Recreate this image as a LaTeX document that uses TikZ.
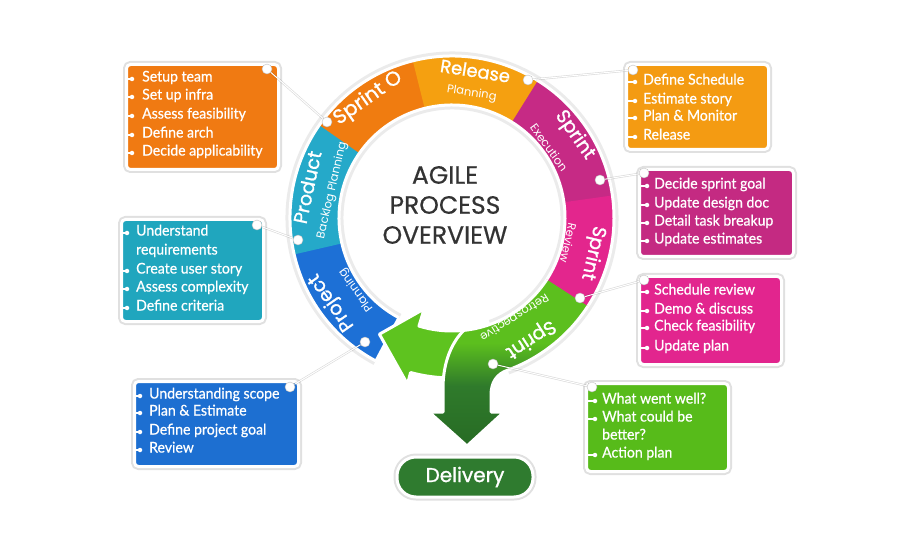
\documentclass[tikz,border=0pt]{standalone}
\usepackage{fontspec}
\setmainfont{Lato}
\newfontfamily\bfont[FakeStretch=0.95,FakeBold=0.6]{Lato}
\newfontfamily\gfont{Poppins}
\newfontfamily\gtitle[FakeBold=0.5]{Poppins}
\newfontfamily\gmed[FakeBold=1.2]{Poppins}
\usetikzlibrary{calc}
\definecolor{sorange}{HTML}{F07C10}
\definecolor{rorange}{HTML}{F5A010}
\definecolor{pteal}{HTML}{25A9C9}
\definecolor{pblue}{HTML}{1D70D6}
\definecolor{emag}{HTML}{C62A85}
\definecolor{rpink}{HTML}{E3268D}
\definecolor{lime}{HTML}{5CBF1E}
\definecolor{ltgreen}{HTML}{5EC31F}
\definecolor{dkgreen}{HTML}{2F7A2B}
\definecolor{dkgreen2}{HTML}{276B24}
\definecolor{pillgreen}{HTML}{2F7B2F}
\definecolor{txtgray}{HTML}{333333}
\definecolor{bx1}{HTML}{F07A12}
\definecolor{bx2}{HTML}{20A6BE}
\definecolor{bx3}{HTML}{1D6FD1}
\definecolor{bx4}{HTML}{F49B12}
\definecolor{bx5}{HTML}{C42A82}
\definecolor{bx6}{HTML}{E2258E}
\definecolor{bx7}{HTML}{57BB1A}
\pgfdeclareverticalshading{greenshade}{100bp}{color(0bp)=(dkgreen2); color(25bp)=(dkgreen2); color(43bp)=(dkgreen); color(56bp)=(lime); color(100bp)=(lime)}
\newcommand\ringseg[3]{%
  \fill[#1] ($(C)+(#2:113)$) arc[start angle=#2, end angle=#3, radius=113]
    -- ($(C)+(#3:162)$) arc[start angle=#3, end angle=#2, radius=162] -- cycle;}
\newcommand\bitem[5]{%
  \node[bul] (#1b#4) at (#2,#4) {};
  \draw[bulline] (#1.west |- #1b#4) -- (#1b#4);
  \node[item] (#1t#4) at (#3,#4) {#5};}
\begin{document}
\begin{tikzpicture}[x=1pt,y=-1pt,
  box/.style={draw=white, line width=3pt, rounded corners=4pt, anchor=north west, inner sep=0pt,
    preaction={draw=black, draw opacity=.12, line width=7pt}},
  item/.style={anchor=mid west, inner sep=0pt, text=white, font=\bfont\fontsize{14.8}{15}\selectfont},
  bul/.style={circle, fill=white, inner sep=0pt, minimum size=4.5pt},
  bulline/.style={white, line width=1.2pt},
  dotn/.style={circle, fill=white, inner sep=0pt, minimum size=10pt, draw=black!25, line width=0.4pt},
  conn/.style={white, line width=1pt, preaction={draw=black, draw opacity=.15, line width=2.2pt}},
  mainlab/.style={text=white, inner sep=0pt, font=\gmed\fontsize{19}{19}\selectfont},
  sublab/.style={text=white, inner sep=0pt, font=\gfont\fontsize{11.5}{11.5}\selectfont},
  ringline/.style={white, line width=3pt, line join=round}]
\useasboundingbox (0,0) rectangle (900,540);
\fill[white] (0,0) rectangle (900,540);
\coordinate (C) at (452,218);
% ring shadow
\draw[black, draw opacity=.08, line width=58pt] ($(C)+(118:137.5)$) arc[start angle=118, end angle=430, radius=137.5];
% ring segments
\ringseg{pblue}{118}{167.5}
\ringseg{pteal}{167}{215.5}
\ringseg{sorange}{215}{256.5}
\ringseg{rorange}{256}{302.5}
\ringseg{emag}{302}{352.5}
\ringseg{rpink}{352}{394}
\draw[ringline] ($(C)+(118:162)$) arc[start angle=118, end angle=393, radius=162];
\draw[ringline] ($(C)+(118:113)$) arc[start angle=118, end angle=393, radius=113];
\draw[ringline] ($(C)+(118:113)$) -- ($(C)+(118:162)$);
% light green arrow back to project
\filldraw[fill=ltgreen, draw=white, line width=3pt, line join=round]
  ($(C)+(107:95)$) -- ($(C)+(122:137)$) -- ($(C)+(105:172)$) -- ($(C)+(105:160)$)
  arc[start angle=105, end angle=80, radius=160] -- ($(C)+(80:113)$)
  arc[start angle=80, end angle=107, radius=113] -- cycle;
% retrospective + delivery stem
\shade[shading=greenshade] ($(C)+(33:162)$) arc[start angle=33, end angle=70, radius=162]
  .. controls (497,374) and (491,382) .. (491,395) -- (491,412) -- (504,412) -- (467,446)
  -- (429,412) -- (443,412) -- (443,388)
  .. controls (443,362) and (452,342) .. ($(C)+(84:113)$)
  arc[start angle=84, end angle=33, radius=113] -- cycle;
\draw[ringline] ($(C)+(33:162)$) arc[start angle=33, end angle=70, radius=162]
  .. controls (497,374) and (491,382) .. (491,395) -- (491,412) -- (504,412) -- (467,446)
  -- (429,412) -- (443,412) -- (443,388)
  .. controls (443,362) and (452,342) .. ($(C)+(84:113)$)
  arc[start angle=84, end angle=33, radius=113];
% ring labels
\node[mainlab, font=\gmed\fontsize{20}{20}\selectfont, rotate=35] (lsp0) at ($(C)+(-125:146)$) {Sprint O};
\node[mainlab, font=\gmed\fontsize{18}{18}\selectfont, rotate=-9] (lrel) at ($(C)+(-81:149)$) {Release};
\node[sublab, rotate=-9] (lrel2) at ($(C)+(-81:126)$) {Planning};
\node[mainlab, rotate=-55] (lexe) at ($(C)+(-34:148)$) {Sprint};
\node[sublab, rotate=-54] (lexe2) at ($(C)+(-36:120)$) {Execution};
\node[mainlab, rotate=-103] (lrev) at ($(C)+(14:145)$) {Sprint};
\node[sublab, rotate=-103] (lrev2) at ($(C)+(12:119)$) {Review};
\node[mainlab, rotate=-147] (lret) at ($(C)+(57:144)$) {Sprint};
\node[sublab, rotate=-148] (lret2) at ($(C)+(58:117)$) {Retrospective};
\node[mainlab, rotate=125] (lproj) at ($(C)+(-215:147)$) {Project};
\node[sublab, rotate=126] (lproj2) at ($(C)+(-217:120)$) {Planning};
\node[mainlab, rotate=78] (lprod) at ($(C)+(-168:148)$) {Product};
\node[sublab, rotate=77] (lprod2) at ($(C)+(-167:123)$) {Backlog Planning};
% title
\node[font=\gtitle\fontsize{25}{30}\selectfont, text=txtgray, align=center, inner sep=0pt] (title) at (445,205) {AGILE\\PROCESS\\OVERVIEW};
% delivery
\node[draw=white, line width=3pt, fill=pillgreen, rounded corners=19pt, minimum width=136pt, minimum height=40pt,
  inner sep=0pt, text=white, font=\gmed\fontsize{20}{20}\selectfont,
  preaction={draw=black, draw opacity=.12, line width=7pt}] (deliv) at (465,477) {Delivery};
% boxes
\node[box, fill=bx1, minimum width=152pt, minimum height=105pt] (box1) at (125,63) {};
\node[box, fill=bx2, minimum width=142pt, minimum height=102pt] (box2) at (120,218) {};
\node[box, fill=bx3, minimum width=164pt, minimum height=85pt] (box3) at (133,380) {};
\node[box, fill=bx4, minimum width=142pt, minimum height=85pt] (box4) at (625,63) {};
\node[box, fill=bx5, minimum width=154pt, minimum height=87pt] (box5) at (638,168) {};
\node[box, fill=bx6, minimum width=142pt, minimum height=88pt] (box6) at (638,275) {};
\node[box, fill=bx7, minimum width=142pt, minimum height=88pt] (box7) at (585,382) {};
% items
\bitem{box1}{132}{142}{79}{Setup team}
\bitem{box1}{132}{142}{97}{Set up infra}
\bitem{box1}{132}{142}{116}{Assess feasibility}
\bitem{box1}{132}{142}{135}{Define arch}
\bitem{box1}{132}{142}{153}{Decide applicability}
\bitem{box2}{127}{136}{233}{Understand}
\node[item] (box2t252) at (136,252) {requirements};
\bitem{box2}{127}{136}{271}{Create user story}
\bitem{box2}{127}{136}{289}{Assess complexity}
\bitem{box2}{127}{136}{308}{Define criteria}
\bitem{box3}{140}{149}{396}{Understanding scope}
\bitem{box3}{140}{149}{413}{Plan \& Estimate}
\bitem{box3}{140}{149}{432}{Define project goal}
\bitem{box3}{140}{149}{450}{Review}
\bitem{box4}{635}{643}{82}{Define Schedule}
\bitem{box4}{635}{643}{101}{Estimate story}
\bitem{box4}{635}{643}{118}{Plan \& Monitor}
\bitem{box4}{635}{643}{137}{Release}
\bitem{box5}{647}{654}{186}{Decide sprint goal}
\bitem{box5}{647}{654}{205}{Update design doc}
\bitem{box5}{647}{654}{223}{Detail task breakup}
\bitem{box5}{647}{654}{241}{Update estimates}
\bitem{box6}{647}{654}{292}{Schedule review}
\bitem{box6}{647}{654}{311}{Demo \& discuss}
\bitem{box6}{647}{654}{328}{Check feasibility}
\bitem{box6}{647}{654}{348}{Update plan}
\bitem{box7}{595}{602}{401}{What went well?}
\bitem{box7}{595}{602}{419}{What could be}
\node[item] (box7t437) at (602,437) {better?};
\bitem{box7}{595}{602}{455}{Action plan}
% dots
\node[dotn] (rd1) at (327,122) {};
\node[dotn] (bd1) at (267,69) {};
\node[dotn] (rd2) at (298,240) {};
\node[dotn] (bd2) at (257,225) {};
\node[dotn] (rd3) at (365,342) {};
\node[dotn] (bd3) at (290,387) {};
\node[dotn] (rd4) at (528,80) {};
\node[dotn] (bd4) at (633,70) {};
\node[dotn] (rd5) at (600,180) {};
\node[dotn] (bd5) at (644,173) {};
\node[dotn] (rd6) at (580,298) {};
\node[dotn] (bd6) at (644,280) {};
\node[dotn] (rd7) at (493,364) {};
\node[dotn] (bd7) at (592,387) {};
% connectors
\draw[conn] (rd1) -- (bd1);
\draw[conn] (rd2) -- (bd2);
\draw[conn] (rd3) -- (bd3);
\draw[conn] (rd4) -- (bd4);
\draw[conn] (rd5) -- (bd5);
\draw[conn] (rd6) -- (bd6);
\draw[conn] (rd7) -- (bd7);
\end{tikzpicture}
\end{document}
